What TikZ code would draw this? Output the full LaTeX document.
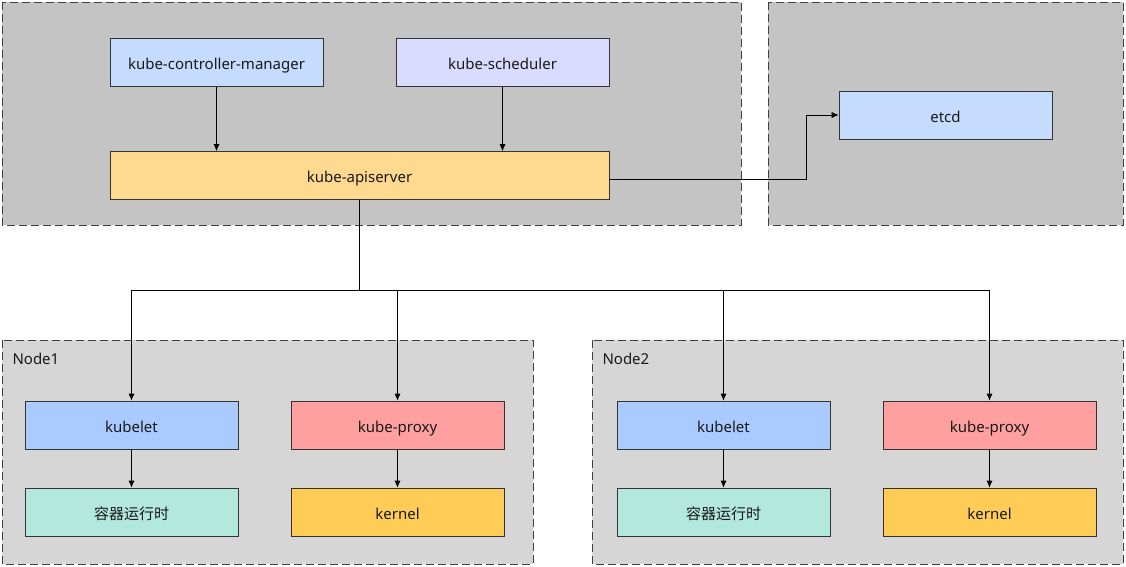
\documentclass[tikz,border=0pt]{standalone}
\usepackage{fontspec}
\setmainfont{Noto Sans}
\newfontfamily\cjk{Noto Sans CJK SC}
\usetikzlibrary{arrows.meta}
\definecolor{grpA}{HTML}{C4C4C4}
\definecolor{grpB}{HTML}{D6D6D6}
\definecolor{cCCM}{HTML}{C6DCFF}
\definecolor{cSch}{HTML}{DADCFF}
\definecolor{cApi}{HTML}{FFD98F}
\definecolor{cEtcd}{HTML}{C6DCFF}
\definecolor{cLet}{HTML}{A9CBFF}
\definecolor{cPrx}{HTML}{FFA0A0}
\definecolor{cCtr}{HTML}{B3E8DC}
\definecolor{cKer}{HTML}{FFCD55}
\tikzset{
  grp/.style={draw=black!75, dash pattern=on 8pt off 4pt, line width=0.8pt},
  comp/.style={draw=black!80, line width=0.6pt, font=\fontsize{15}{17}\selectfont, text=black!90,
    minimum width=213pt, minimum height=48pt, inner sep=0pt, text height=14pt, text depth=0pt},
  lab/.style={anchor=west, font=\fontsize{15}{17}\selectfont, text=black!90},
  conn/.style={draw=black, line width=0.8pt},
  arr/.style={conn, -{Latex[length=7pt,width=6pt]}},
}
\begin{document}
\begin{tikzpicture}[x=1pt,y=-1pt]
\useasboundingbox (0,0) rectangle (1126,567);
% groups
\path[grp, fill=grpA] (2,2) rectangle (741,225);
\path[grp, fill=grpA] (768,2) rectangle (1123,225);
\path[grp, fill=grpB] (2,340) rectangle (533,564);
\path[grp, fill=grpB] (592,340) rectangle (1123,564);
\node[lab] (n1lab) at (9,359) {Node1};
\node[lab] (n2lab) at (599,359) {Node2};
% control plane
\node[comp, fill=cCCM] (ccm) at (216.5,62.5) {kube-controller-manager};
\node[comp, fill=cSch] (sch) at (502.5,62.5) {kube-scheduler};
\node[comp, fill=cApi, minimum width=499pt] (api) at (359.5,175.5) {kube-apiserver};
\node[comp, fill=cEtcd] (etcd) at (945.5,115) {etcd};
\draw[arr] (ccm.south) -- (ccm.south |- api.north);
\draw[arr] (sch.south) -- (sch.south |- api.north);
\coordinate (elbow) at (806,179);
\draw[arr] (api.east |- elbow) -- (elbow) |- (etcd.west);
% worker nodes
\node[comp, fill=cLet] (let1) at (131.5,425) {kubelet};
\node[comp, fill=cPrx] (prx1) at (397.5,425) {kube-proxy};
\node[comp, fill=cCtr] (ctr1) at (131.5,512) {\cjk 容器运行时};
\node[comp, fill=cKer] (ker1) at (397.5,512) {kernel};
\node[comp, fill=cLet] (let2) at (723.5,425) {kubelet};
\node[comp, fill=cPrx] (prx2) at (989.5,425) {kube-proxy};
\node[comp, fill=cCtr] (ctr2) at (723.5,512) {\cjk 容器运行时};
\node[comp, fill=cKer] (ker2) at (989.5,512) {kernel};
% bus
\coordinate (bus) at (359.5,290);
\draw[conn] (api.south) -- (bus);
\draw[conn] (let1.north |- bus) -- (prx2.north |- bus);
\draw[arr] (let1.north |- bus) -- (let1.north);
\draw[arr] (prx1.north |- bus) -- (prx1.north);
\draw[arr] (let2.north |- bus) -- (let2.north);
\draw[arr] (prx2.north |- bus) -- (prx2.north);
\draw[arr] (let1) -- (ctr1);
\draw[arr] (prx1) -- (ker1);
\draw[arr] (let2) -- (ctr2);
\draw[arr] (prx2) -- (ker2);
\end{tikzpicture}
\end{document}
